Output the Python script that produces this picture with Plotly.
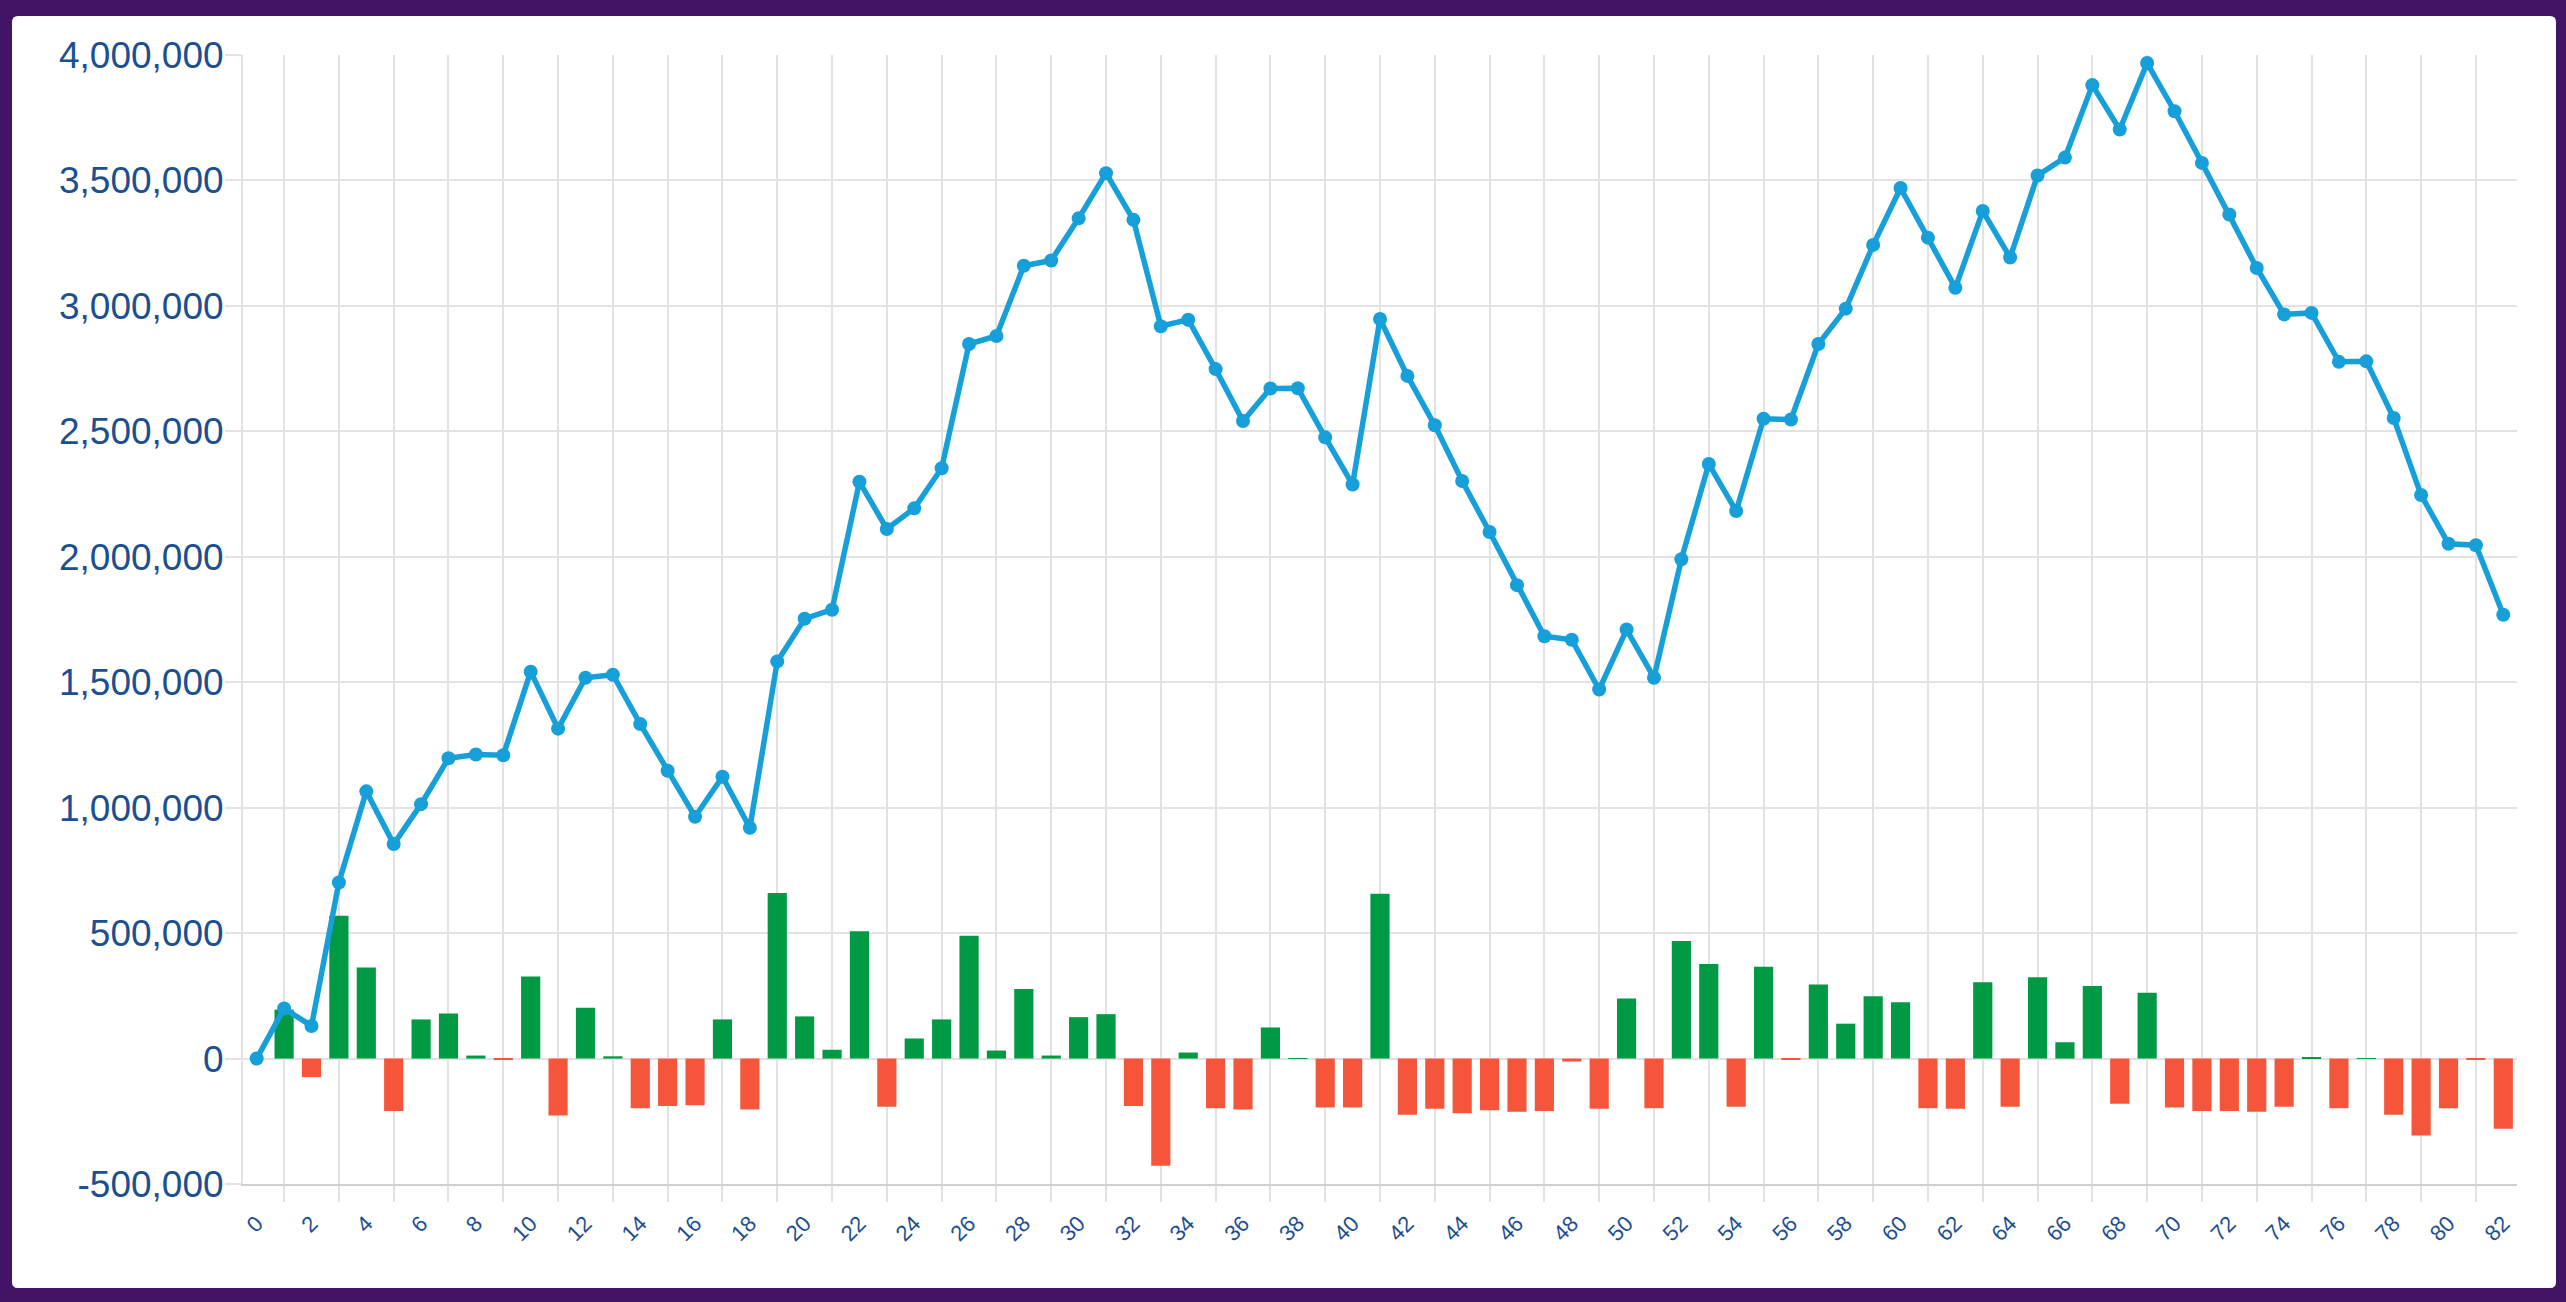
import plotly.graph_objects as go

# ── Data ───────────────────────────────────────────────────────────────────
periods = list(range(83))
x_tick_vals = list(range(0, 83, 2))
x_tick_labels = [str(v) for v in x_tick_vals]
y_tick_vals = [-500000, 0, 500000, 1000000, 1500000, 2000000, 2500000, 3000000, 3500000, 4000000]
y_tick_labels = ["-500,000", "0", "500,000", "1,000,000", "1,500,000", "2,000,000",
                 "2,500,000", "3,000,000", "3,500,000", "4,000,000"]

balance = [
    0, 200000, 130000, 702000, 1065000, 855000, 1014000, 1197000, 1212000, 1209000,
    1542000, 1315000, 1518000, 1530000, 1333000, 1147000, 964000, 1123000, 920000, 1583000,
    1753000, 1789000, 2299000, 2111000, 2193000, 2353000, 2848000, 2880000, 3160000, 3181000,
    3349000, 3529000, 3343000, 2919000, 2945000, 2748000, 2541000, 2671000, 2672000, 2476000,
    2288000, 2948000, 2721000, 2524000, 2302000, 2099000, 1887000, 1683000, 1669000, 1471000,
    1710000, 1518000, 1990000, 2370000, 2182000, 2550000, 2547000, 2848000, 2989000, 3243000,
    3470000, 3272000, 3072000, 3378000, 3193000, 3520000, 3591000, 3880000, 3703000, 3968000,
    3776000, 3570000, 3364000, 3151000, 2966000, 2972000, 2777000, 2779000, 2553000, 2246000,
    2052000, 2046000, 1769000,
]

change = [
    0, 195000, -74000, 569000, 363000, -209000, 156000, 180000, 12000, -3000,
    327000, -227000, 203000, 9000, -198000, -189000, -186000, 156000, -203000, 660000,
    168000, 35000, 507000, -192000, 80000, 156000, 489000, 32000, 277000, 12000,
    165000, 177000, -189000, -427000, 24000, -198000, -203000, 124000, 2000, -195000,
    -195000, 657000, -224000, -200000, -218000, -206000, -212000, -209000, -12000, -200000,
    239000, -198000, 469000, 377000, -192000, 366000, -3000, 295000, 139000, 248000,
    224000, -198000, -200000, 304000, -192000, 324000, 65000, 289000, -180000, 262000,
    -195000, -209000, -209000, -212000, -192000, 3000, -198000, 2000, -224000, -307000,
    -198000, -3000, -280000,
]

# ── Style ──────────────────────────────────────────────────────────────────
C_FRAME = "#411466"
C_PANEL = "#FFFFFF"
C_LINE  = "#169FD8"
C_UP    = "#009944"
C_DOWN  = "#F5553B"
C_GRID  = "#E2E2E2"
C_AXIS  = "#CFCFCF"
C_TEXT  = "#1C4F91"
FONT    = "Liberation Sans, Arial, sans-serif"

W, H = 2566, 1302
L, R, T, B = 243, 49, 55, 118
PW, PH = W - L - R, H - T - B

fig = go.Figure()

fig.add_trace(go.Bar(
    x=periods, y=change,
    width=0.70,
    marker=dict(color=[C_UP if v >= 0 else C_DOWN for v in change], line=dict(width=0)),
    showlegend=False,
))

fig.add_trace(go.Scatter(
    x=periods, y=balance,
    mode="lines+markers",
    line=dict(color=C_LINE, width=5.5),
    marker=dict(color=C_LINE, size=14),
    showlegend=False,
))

fig.update_xaxes(
    range=[-0.5, 82.5],
    tickmode="array",
    tickvals=x_tick_vals,
    ticktext=x_tick_labels,
    tickangle=-45,
    ticks="outside", ticklen=16, tickcolor="rgba(0,0,0,0)",
    tickfont=dict(size=22, color=C_TEXT, family=FONT),
    showgrid=False,
    minor=dict(
        tickmode="array", tickvals=list(range(1, 83, 2)),
        showgrid=True, gridcolor=C_GRID, gridwidth=2,
        ticks="outside", ticklen=16, tickcolor=C_GRID, tickwidth=2,
    ),
    showline=True, linecolor=C_AXIS, linewidth=2,
    zeroline=False,
)

fig.update_yaxes(
    range=[-500000, 4000000],
    tickmode="array",
    tickvals=y_tick_vals,
    ticktext=y_tick_labels,
    ticks="outside", ticklen=16, tickcolor=C_GRID, tickwidth=2,
    ticklabelstandoff=-6,
    tickfont=dict(size=37, color=C_TEXT, family=FONT),
    showgrid=True, gridcolor=C_GRID, gridwidth=2,
    zeroline=True, zerolinecolor=C_GRID, zerolinewidth=2,
    showline=True, linecolor=C_GRID, linewidth=2,
)

# white rounded panel on the purple frame
def px(x):
    return (x - L) / PW

def py(y):
    return (H - B - y) / PH

x0, x1, y0, y1, r = 12, 2556, 16, 1288, 6
panel = (
    f"M {px(x0 + r)} {py(y0)} L {px(x1 - r)} {py(y0)} "
    f"Q {px(x1)} {py(y0)} {px(x1)} {py(y0 + r)} L {px(x1)} {py(y1 - r)} "
    f"Q {px(x1)} {py(y1)} {px(x1 - r)} {py(y1)} L {px(x0 + r)} {py(y1)} "
    f"Q {px(x0)} {py(y1)} {px(x0)} {py(y1 - r)} L {px(x0)} {py(y0 + r)} "
    f"Q {px(x0)} {py(y0)} {px(x0 + r)} {py(y0)} Z"
)
fig.add_shape(
    type="path", path=panel, xref="paper", yref="paper",
    fillcolor=C_PANEL, line=dict(width=0), layer="below",
)

fig.update_layout(
    width=W, height=H,
    paper_bgcolor=C_FRAME,
    plot_bgcolor="rgba(0,0,0,0)",
    margin=dict(l=L, r=R, t=T, b=B, autoexpand=False),
    bargap=0.3,
    font=dict(family=FONT, color=C_TEXT),
    showlegend=False,
)

fig.write_html(
    "out.html",
    config={"displayModeBar": False},
    post_script="document.body.style.margin='0';document.body.style.overflow='hidden';"
                "document.body.style.background='" + C_FRAME + "';",
)
